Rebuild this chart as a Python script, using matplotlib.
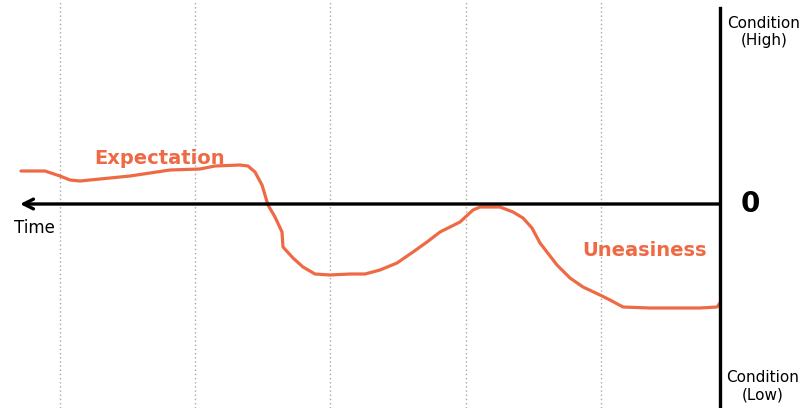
import matplotlib.pyplot as plt

# emotion curve (x = time position, y = condition, 0 = neutral)
time_x = [21, 45, 60, 70, 80, 100, 130, 150, 170, 200, 215, 240, 248, 255, 262, 265,
          268, 275, 282, 283, 293, 303, 315, 330, 350, 365, 380, 397, 413, 427, 440,
          450, 460, 473, 480, 500, 513, 523, 532, 540, 557, 570, 583, 600, 610, 623,
          650, 700, 717, 720]
condition = [33, 33, 28, 24, 23, 25, 28, 31, 34, 35, 38, 39, 38, 32, 19, 9,
             -1, -13, -28, -43, -54, -63, -70, -71, -70, -70, -66, -59, -48, -38, -28,
             -23, -18, -6, -3, -3, -8, -14, -24, -39, -61, -74, -83, -91, -96, -103,
             -104, -104, -103, -99]

grid_x = [60, 195, 330, 466, 601]
labels = {"Expectation": (160, 46), "Uneasiness": (645, -46)}
line_color = "#EE6A45"

fig = plt.figure(figsize=(8.03, 4.08), dpi=100)
ax = fig.add_axes([0, 0, 1, 1])
ax.set_xlim(0, 803)
ax.set_ylim(-204, 204)
ax.axis("off")

# dotted time gridlines
for gx in grid_x:
    ax.axvline(gx, color="#a8a8a8", linestyle=(0, (1, 2)), linewidth=1, zorder=1)

# axes: condition (vertical) and time arrow (horizontal)
ax.plot([720, 720], [-204, 196], color="black", linewidth=2.4, zorder=3)
ax.annotate("", xy=(20, 0), xytext=(720, 0),
            arrowprops=dict(arrowstyle="->,head_length=0.7,head_width=0.35",
                            color="black", linewidth=2.4, shrinkA=0, shrinkB=0),
            zorder=3)

ax.plot(time_x, condition, color=line_color, linewidth=2.3,
        solid_capstyle="round", zorder=2)

for text, (tx, ty) in labels.items():
    ax.text(tx, ty, text, color=line_color, fontsize=14, fontweight="bold",
            ha="center", va="center")

ax.text(750, 0, "0", fontsize=20, fontweight="bold", ha="center", va="center")
ax.text(34, -24, "Time", fontsize=12, ha="center", va="center")
ax.text(764, 172, "Condition\n(High)", fontsize=11, ha="center", va="center",
        linespacing=1.2)
ax.text(763, -182, "Condition\n(Low)", fontsize=11, ha="center", va="center",
        linespacing=1.2)

fig.savefig("out.png", dpi=100)
